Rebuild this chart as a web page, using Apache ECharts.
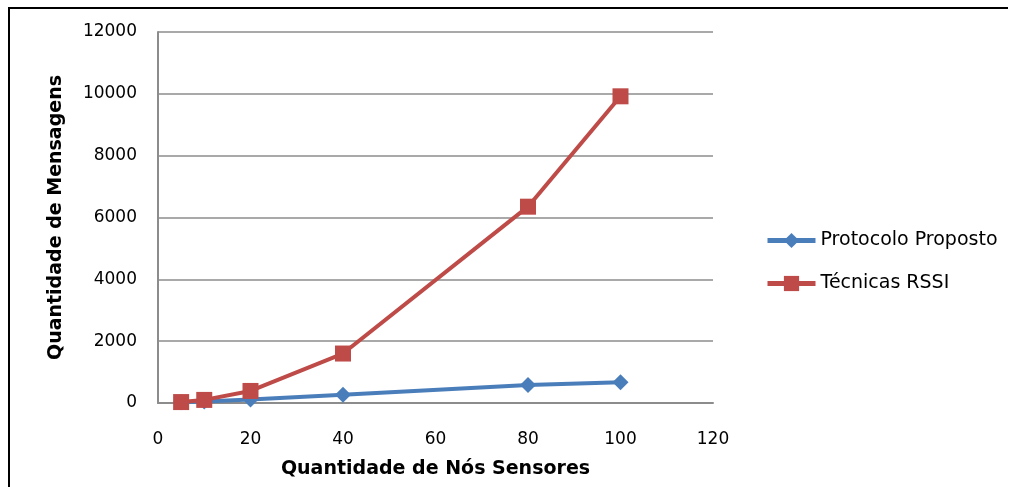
<!DOCTYPE html>
<html>
<head>
<meta charset="utf-8">
<style>
  html, body { margin: 0; padding: 0; background: #fff; overflow: hidden; }
  #chart { width: 1013px; height: 487px; }
</style>
<script src="https://cdn.jsdelivr.net/npm/echarts@6/dist/echarts.min.js"></script>
</head>
<body>
<div id="chart"></div>
<script>
// Number of sensor nodes (x) and message counts for each approach
const nodes = [5, 10, 20, 40, 80, 100];
const protocoloProposto = [25, 50, 110, 270, 580, 670];
const tecnicasRSSI = [30, 100, 390, 1600, 6350, 9920];
const yTicks = [0, 2000, 4000, 6000, 8000, 10000, 12000];
const xTicks = [0, 20, 40, 60, 80, 100, 120];

const FONT = '"DejaVu Sans", sans-serif';
const BLUE = '#4a7ebb';
const RED = '#be4b48';

const chart = echarts.init(document.getElementById('chart'), null, { renderer: 'canvas' });

chart.setOption({
  animation: false,
  backgroundColor: '#ffffff',
  textStyle: { fontFamily: FONT },
  grid: { left: 158, right: 300, top: 32, bottom: 84, containLabel: false },
  legend: {
    orient: 'vertical',
    left: 760,
    top: 226,
    itemWidth: 48,
    itemHeight: 19,
    itemGap: 24,
    lineStyle: { width: 5 },
    textStyle: { fontFamily: FONT, fontSize: 19, color: '#000' },
    data: ['Protocolo Proposto', 'Técnicas RSSI']
  },
  xAxis: {
    type: 'value',
    min: xTicks[0],
    max: xTicks[xTicks.length - 1],
    interval: 20,
    name: 'Quantidade de Nós Sensores',
    nameLocation: 'middle',
    nameGap: 57,
    nameTextStyle: { fontFamily: FONT, fontSize: 19, fontWeight: 'bold', color: '#000' },
    axisLine: { show: true, lineStyle: { color: '#8c8c8c', width: 2 } },
    axisTick: { show: false },
    splitLine: { show: false },
    axisLabel: { margin: 28, fontSize: 17, color: '#000', fontFamily: FONT, formatter: v => String(v) }
  },
  yAxis: {
    type: 'value',
    min: yTicks[0],
    max: yTicks[yTicks.length - 1],
    interval: 2000,
    name: 'Quantidade de Mensagens',
    nameLocation: 'middle',
    nameGap: 92,
    nameRotate: 90,
    nameTextStyle: { fontFamily: FONT, fontSize: 19, fontWeight: 'bold', color: '#000' },
    axisLine: { show: true, lineStyle: { color: '#8c8c8c', width: 2 } },
    axisTick: { show: false },
    splitLine: { show: true, lineStyle: { color: '#8c8c8c', width: 1.5 } },
    axisLabel: { margin: 21, fontSize: 17, color: '#000', fontFamily: FONT, formatter: v => String(v) }
  },
  series: [
    {
      name: 'Protocolo Proposto',
      type: 'line',
      data: nodes.map((n, i) => [n, protocoloProposto[i]]),
      symbol: 'diamond',
      symbolSize: 16,
      lineStyle: { color: BLUE, width: 4 },
      itemStyle: { color: BLUE },
      z: 2
    },
    {
      name: 'Técnicas RSSI',
      type: 'line',
      data: nodes.map((n, i) => [n, tecnicasRSSI[i]]),
      symbol: 'rect',
      symbolSize: 16,
      lineStyle: { color: RED, width: 4 },
      itemStyle: { color: RED },
      z: 3
    }
  ],
  graphic: [
    // frame edges along the top and left only
    { type: 'rect', silent: true, shape: { x: 8, y: 7, width: 1000, height: 2 }, style: { fill: '#000' } },
    { type: 'rect', silent: true, shape: { x: 8, y: 7, width: 2, height: 480 }, style: { fill: '#000' } }
  ]
});
</script>
</body>
</html>
